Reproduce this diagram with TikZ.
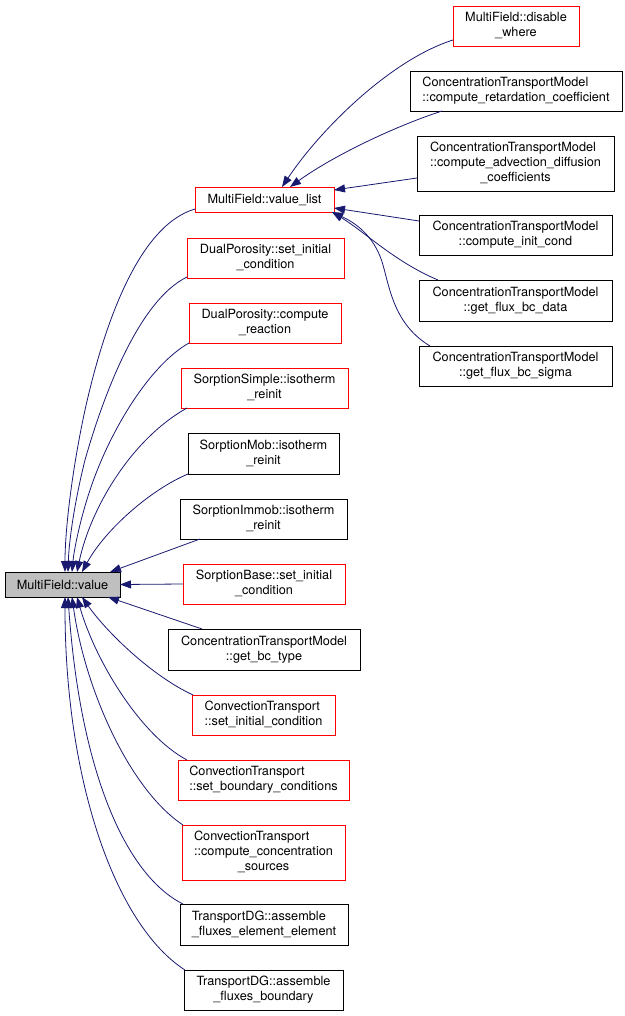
\documentclass[tikz,border=0pt]{standalone}
\usepackage{fontspec}
\setmainfont{TeX Gyre Heros}
\usetikzlibrary{arrows.meta,calc}
\definecolor{edgeblue}{HTML}{191970}
\definecolor{fillgrey}{HTML}{BFBFBF}
\newcommand\LL[2]{\begin{tabular}{@{}l@{}}#1\\\multicolumn{1}{@{}c@{}}{#2}\end{tabular}}
\newcommand\LLL[3]{\begin{tabular}{@{}l@{}}#1\\#2\\\multicolumn{1}{@{}c@{}}{#3}\end{tabular}}
\begin{document}
\begin{tikzpicture}[x=1pt,y=-1pt,
  box/.style={draw=black,line width=0.8pt,rectangle,inner sep=0pt,outer sep=0pt,
    font=\fontsize{12.7}{15}\selectfont,align=center},
  redbox/.style={box,draw=red},
  greybox/.style={box,fill=fillgrey},
  edge/.style={draw=edgeblue,line width=0.8pt,-{Triangle[length=11pt,width=8pt]}}]
\useasboundingbox (0,0) rectangle (624,1016);
% nodes
\node[greybox,minimum width=115pt,minimum height=25pt] (value) at (62.5,584.5) {MultiField::value};
\node[redbox,minimum width=139pt,minimum height=25pt] (vlist) at (264.5,199.5) {MultiField::value\_list};
\node[redbox,minimum width=126pt,minimum height=40pt] (dw) at (516,26) {\LL{MultiField::disable}{\_where}};
\node[box,minimum width=212pt,minimum height=40pt] (ret) at (516,91) {\LL{ConcentrationTransportModel}{::compute\_retardation\_coefficient}};
\node[box,minimum width=197pt,minimum height=55pt] (adv) at (515.5,163.5) {\LLL{ConcentrationTransportModel}{::compute\_advection\_diffusion}{\_coefficients}};
\node[box,minimum width=193pt,minimum height=40pt] (icond) at (515.5,235) {\LL{ConcentrationTransportModel}{::compute\_init\_cond}};
\node[box,minimum width=193pt,minimum height=41pt] (fbd) at (515.5,300.5) {\LL{ConcentrationTransportModel}{::get\_flux\_bc\_data}};
\node[box,minimum width=193pt,minimum height=40pt] (fbs) at (515.5,366) {\LL{ConcentrationTransportModel}{::get\_flux\_bc\_sigma}};
\node[redbox,minimum width=157pt,minimum height=40pt] (dpi) at (265.5,258) {\LL{DualPorosity::set\_initial}{\_condition}};
\node[redbox,minimum width=152pt,minimum height=40pt] (dpr) at (265,323) {\LL{DualPorosity::compute}{\_reaction}};
\node[redbox,minimum width=167pt,minimum height=40pt] (ss) at (264.5,388) {\LL{SorptionSimple::isotherm}{\_reinit}};
\node[box,minimum width=151pt,minimum height=41pt] (sm) at (263.5,453.5) {\LL{SorptionMob::isotherm}{\_reinit}};
\node[box,minimum width=167pt,minimum height=40pt] (si) at (263.5,519) {\LL{SorptionImmob::isotherm}{\_reinit}};
\node[redbox,minimum width=162pt,minimum height=40pt] (sb) at (264,584) {\LL{SorptionBase::set\_initial}{\_condition}};
\node[box,minimum width=192pt,minimum height=41pt] (gbc) at (264,649.5) {\LL{ConcentrationTransportModel}{::get\_bc\_type}};
\node[redbox,minimum width=143pt,minimum height=40pt] (cti) at (263.5,715) {\LL{ConvectionTransport}{::set\_initial\_condition}};
\node[redbox,minimum width=171pt,minimum height=40pt] (ctb) at (263.5,780) {\LL{ConvectionTransport}{::set\_boundary\_conditions}};
\node[redbox,minimum width=163pt,minimum height=55pt] (ctc) at (263.5,852.5) {\LLL{ConvectionTransport}{::compute\_concentration}{\_sources}};
\node[box,minimum width=168pt,minimum height=41pt] (tde) at (264,924.5) {\LL{TransportDG::assemble}{\_fluxes\_element\_element}};
\node[box,minimum width=159pt,minimum height=40pt] (tdb) at (263.5,990) {\LL{TransportDG::assemble}{\_fluxes\_boundary}};
% edges into value (from above)
\draw[edge] ($(vlist.south west)+(0,-3)$) .. controls (140,225) and (105,320) .. (85,410) .. controls (72,470) and (65,530) .. ($(value.north west)+(60,0)$);
\draw[edge] ($(dpi.south west)+(0,-1)$) .. controls (140,300) and (105,390) .. (85,460) .. controls (75,500) and (69,540) .. ($(value.north west)+(63,0)$);
\draw[edge] (dpr.south west) .. controls (150,365) and (110,430) .. (90,490) .. controls (80,520) and (74,550) .. ($(value.north west)+(67,0)$);
\draw[edge] ($(ss.south west)+(6,0)$) .. controls (130,440) and (90,510) .. ($(value.north west)+(72,0)$);
\draw[edge] (sm.south west) .. controls (150,490) and (105,530) .. ($(value.north west)+(77,0)$);
\draw[edge] ($(si.south west)+(20,0)$) -- ($(value.north west)+(105,0)$);
\draw[edge] (sb.west) -- (value.east);
% edges into value (from below)
\draw[edge] ($(gbc.north west)+(34,0)$) -- ($(value.south west)+(103,0)$);
\draw[edge] ($(cti.north west)+(1,0)$) .. controls (150,675) and (105,630) .. ($(value.south west)+(77,0)$);
\draw[edge] ($(ctb.north west)+(9,0)$) .. controls (140,735) and (95,660) .. ($(value.south west)+(72,0)$);
\draw[edge] ($(ctc.north west)+(1,0)$) .. controls (130,790) and (85,690) .. ($(value.south west)+(67,0)$);
\draw[edge] ($(tde.north west)+(3,0)$) .. controls (125,875) and (80,770) .. ($(value.south west)+(63,0)$);
\draw[edge] ($(tdb.north west)+(1,0)$) .. controls (115,925) and (65,780) .. ($(value.south west)+(60,0)$);
% edges into value_list
\draw[edge] ($(dw.south west)+(0,-6)$) .. controls (390,60) and (320,130) .. ($(vlist.north west)+(87,0)$);
\draw[edge] ($(ret.south west)+(32,0)$) .. controls (390,128) and (330,158) .. ($(vlist.north west)+(95,0)$);
\draw[edge] ($(adv.south west)+(0,-13)$) -- ($(vlist.north east)+(0,3)$);
\draw[edge] ($(icond.north west)+(0,6)$) -- ($(vlist.south east)+(0,-4)$);
\draw[edge] ($(fbd.north west)+(19,0)$) .. controls (395,262) and (365,232) .. ($(vlist.south east)+(-2,0)$);
\draw[edge] ($(fbs.north west)+(11,0)$) .. controls (395,325) and (390,290) .. (383,265) .. controls (376,240) and (360,225) .. ($(vlist.south east)+(-2,0)$);
\end{tikzpicture}
\end{document}
